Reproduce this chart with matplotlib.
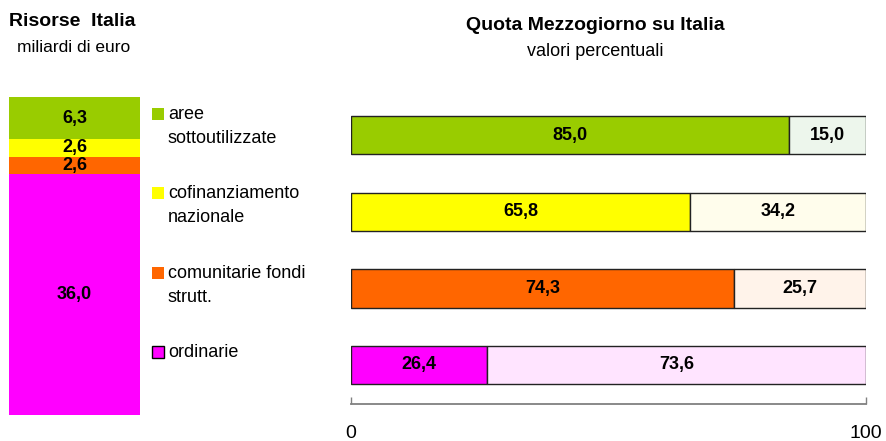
import matplotlib
matplotlib.use("Agg")
import matplotlib.pyplot as plt
from matplotlib.patches import Rectangle

plt.rcParams['font.family'] = ['Liberation Sans', 'DejaVu Sans']

# Data
categories = ["aree\nsottoutilizzate", "cofinanziamento\nnazionale",
              "comunitarie fondi\nstrutt.", "ordinarie"]
risorse = [6.3, 2.6, 2.6, 36.0]          # miliardi di euro
quota_mezz = [85.0, 65.8, 74.3, 26.4]    # % Mezzogiorno
quota_rest = [15.0, 34.2, 25.7, 73.6]    # % resto
colors = ["#99CC00", "#FFFF00", "#FF6600", "#FF00FF"]
pale = ["#EDF6EC", "#FFFDEC", "#FFF3EA", "#FFE4FF"]
xticks = [0, 100]

def fmt(v):
    return f"{v:.1f}".replace(".", ",")

W, H = 887, 441
fig = plt.figure(figsize=(W / 100, H / 100), dpi=100)

def fx(px):
    return px / W

def fy(py):
    return 1 - py / H

# Left stacked bar
axl = fig.add_axes([fx(9), fy(415), fx(140) - fx(9), fy(97) - fy(415)])
bottom = 0
for v, c in zip(reversed(risorse), reversed(colors)):
    axl.bar(0.5, v, width=1.0, bottom=bottom, color=c, edgecolor='none')
    axl.text(0.5, bottom + v / 2, fmt(v), ha='center', va='center',
             fontsize=13, fontweight='bold')
    bottom += v
axl.set_xlim(0, 1)
axl.set_ylim(0, sum(risorse))
axl.axis('off')

# Right horizontal bars
axr = fig.add_axes([fx(351), fy(404), fx(866) - fx(351), fy(100) - fy(404)])
ypos = [3, 2, 1, 0]
for y, m, r, c, p in zip(ypos, quota_mezz, quota_rest, colors, pale):
    axr.barh(y, m, height=0.5, color=c, edgecolor='#222222', linewidth=1.0)
    axr.barh(y, r, left=m, height=0.5, color=p, edgecolor='#222222', linewidth=1.0)
    axr.text(m / 2, y, fmt(m), ha='center', va='center', fontsize=13, fontweight='bold')
    axr.text(m + r / 2, y, fmt(r), ha='center', va='center', fontsize=13, fontweight='bold')
axr.set_xlim(0, 100)
axr.set_ylim(-0.51, 3.46)
for s in ['top', 'right', 'left']:
    axr.spines[s].set_visible(False)
axr.spines['bottom'].set_color('#808080')
axr.spines['bottom'].set_linewidth(1.3)
axr.set_yticks([])
axr.set_xticks(xticks)
axr.set_xticklabels([str(t) for t in xticks])
axr.tick_params(axis='x', direction='in', length=5, width=1, color='#808080',
                labelsize=14, pad=15)

# Titles
fig.text(fx(72), fy(22), "Risorse  Italia", ha='center', va='center',
         fontsize=14, fontweight='bold')
fig.text(fx(74), fy(48), "miliardi di euro", ha='center', va='center', fontsize=12.5)
fig.text(fx(595), fy(26), "Quota Mezzogiorno su Italia", ha='center', va='center',
         fontsize=14, fontweight='bold')
fig.text(fx(595), fy(52), "valori percentuali", ha='center', va='center', fontsize=13)

# Legend (manual)
leg_y = [114, 193, 273, 352]
for cat, c, y in zip(categories, colors, leg_y):
    ec = 'black' if c == "#FF00FF" else 'none'
    fig.patches.append(Rectangle((fx(152), fy(y + 6)), fx(12), fy(y - 6) - fy(y + 6),
                                 transform=fig.transFigure, facecolor=c,
                                 edgecolor=ec, linewidth=1))
    fig.text(fx(168), fy(y - 8), cat, ha='left', va='top', fontsize=13,
             linespacing=1.55)

fig.savefig("out.png", dpi=100)
